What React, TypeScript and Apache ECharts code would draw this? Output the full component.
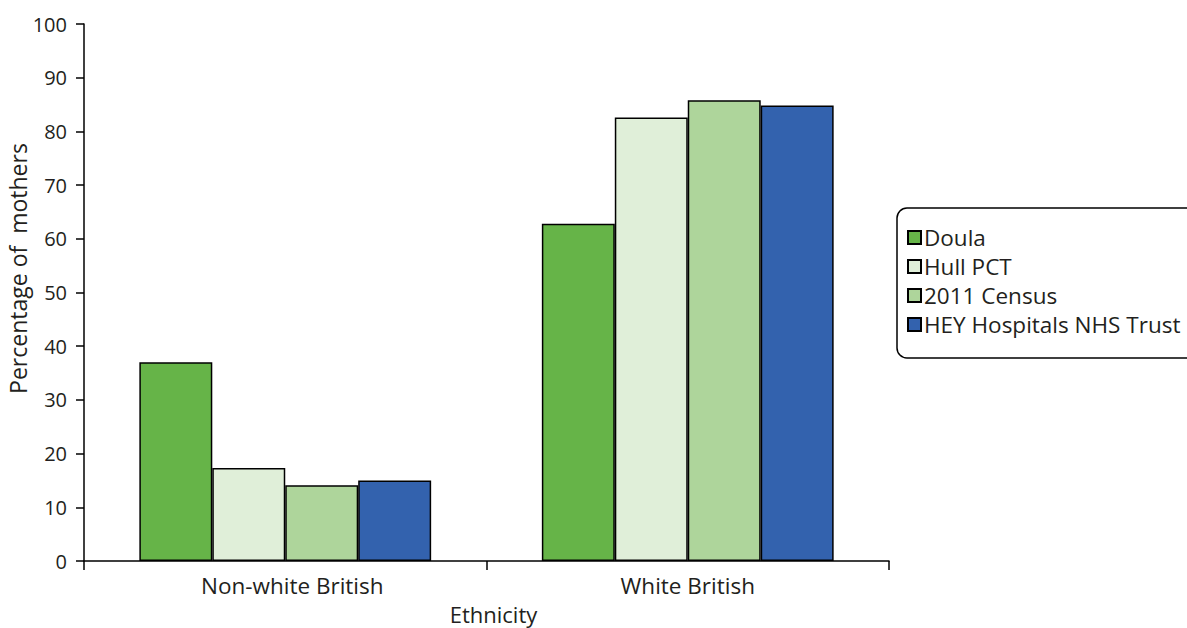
import React, { useEffect, useRef } from "react";
import * as echarts from "echarts";

const categories = ["Non-white British", "White British"];
const seriesNames = ["Doula", "Hull PCT", "2011 Census", "HEY Hospitals NHS Trust"];
const doula = [37, 62.8];
const hullPct = [17.3, 82.6];
const census2011 = [14.1, 85.8];
const heyTrust = [15.0, 84.8];
const colors = ["#66b448", "#e0efd9", "#aed59b", "#3362ae"];
const yTicks = { min: 0, max: 100, interval: 10 };

const FONT = "'Open Sans', 'Noto Sans', sans-serif";
const TEXT = "#231f20";

export default function App() {
  const ref = useRef<HTMLDivElement>(null);
  useEffect(() => {
    if (!ref.current) return;
    const chart = echarts.init(ref.current, null, { renderer: "svg" });
    const values = [doula, hullPct, census2011, heyTrust];
    chart.setOption({
      animation: false,
      textStyle: { fontFamily: FONT, color: TEXT },
      grid: { left: 84, right: 298, top: 24, bottom: 67, containLabel: false, outerBoundsMode: "none" },
      legend: {
        orient: "vertical",
        left: 897,
        top: 208,
        data: seriesNames,
        icon: "rect",
        itemWidth: 13,
        itemHeight: 13,
        itemGap: 6,
        padding: [18, 30, 22, 10],
        borderColor: "#000",
        borderWidth: 1.5,
        borderRadius: 10,
        textStyle: { fontSize: 22.5, lineHeight: 21, color: TEXT, fontFamily: FONT, padding: [0, 0, 0, -2] },
      },
      xAxis: {
        type: "category",
        data: categories.map((c, i) =>
          i === 0 ? { value: c, textStyle: { padding: [0, 0, 0, 14] } } : c
        ),
        name: "Ethnicity",
        nameLocation: "middle",
        nameGap: 42,
        nameMoveOverlap: false,
        nameTextStyle: { fontSize: 22, lineHeight: 22, color: TEXT, padding: [0, 0, 0, 14] },
        axisLine: { lineStyle: { color: "#000", width: 1.5 } },
        axisTick: { show: true, length: 9, lineStyle: { color: "#000", width: 1.5 } },
        axisLabel: { fontSize: 22.5, color: TEXT, margin: 13 },
      },
      yAxis: {
        type: "value",
        min: yTicks.min,
        max: yTicks.max,
        interval: yTicks.interval,
        name: "Percentage of  mothers",
        nameLocation: "middle",
        nameGap: 55,
        nameMoveOverlap: false,
        nameTextStyle: { fontSize: 23, lineHeight: 23, color: TEXT, padding: [0, 0, 0, 48] },
        axisLine: { show: true, lineStyle: { color: "#000", width: 1.5 } },
        axisTick: { show: true, length: 8, lineStyle: { color: "#000", width: 1.5 } },
        axisLabel: { fontSize: 20, color: TEXT, margin: 17 },
        splitLine: { show: false },
      },
      series: seriesNames.map((name, i) => ({
        name,
        type: "bar",
        data: values[i],
        barGap: "0%",
        barCategoryGap: "27.5%",
        itemStyle: { color: colors[i], borderColor: "#000", borderWidth: 1.5 },
      })),
    });
    return () => chart.dispose();
  }, []);
  return <div ref={ref} style={{ width: 1187, height: 628, position: "absolute", left: 0, top: 0 }} />;
}
